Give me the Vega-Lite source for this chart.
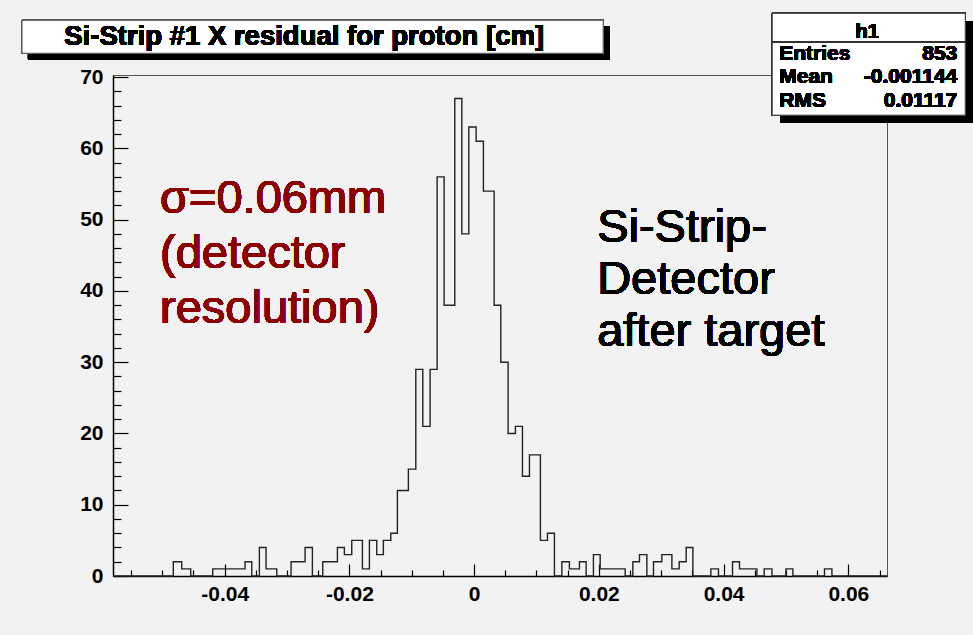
{
  "$schema": "https://vega.github.io/schema/vega-lite/v6.json",
  "width": 774,
  "height": 501,
  "autosize": {"type": "none"},
  "padding": {"left": 113, "top": 75, "right": 86, "bottom": 59},
  "background": "#f2f2f2",
  "config": {
    "view": {"stroke": "#555555", "strokeWidth": 1, "fill": "#f2f2f2"},
    "font": "Liberation Sans"
  },
  "data": {
    "values": [
      {"x": -0.0579, "count": 0},
      {"x": -0.04823, "count": 2},
      {"x": -0.04688, "count": 1},
      {"x": -0.04544, "count": 0},
      {"x": -0.04191, "count": 1},
      {"x": -0.03673, "count": 2},
      {"x": -0.03565, "count": 0},
      {"x": -0.03443, "count": 4},
      {"x": -0.03336, "count": 1},
      {"x": -0.03164, "count": 0},
      {"x": -0.02935, "count": 2},
      {"x": -0.0271, "count": 4},
      {"x": -0.02593, "count": 0},
      {"x": -0.02427, "count": 2},
      {"x": -0.02192, "count": 4},
      {"x": -0.0208, "count": 3},
      {"x": -0.01962, "count": 5},
      {"x": -0.01791, "count": 1},
      {"x": -0.01679, "count": 5},
      {"x": -0.01561, "count": 3},
      {"x": -0.01455, "count": 5},
      {"x": -0.01336, "count": 6},
      {"x": -0.0123, "count": 12},
      {"x": -0.01054, "count": 15},
      {"x": -0.00935, "count": 29},
      {"x": -0.00823, "count": 21},
      {"x": -0.00706, "count": 29},
      {"x": -0.00593, "count": 56},
      {"x": -0.00481, "count": 38},
      {"x": -0.0031, "count": 67},
      {"x": -0.00197, "count": 48},
      {"x": -0.00085, "count": 63},
      {"x": 0.00032, "count": 61},
      {"x": 0.00149, "count": 54},
      {"x": 0.00321, "count": 38},
      {"x": 0.00428, "count": 30},
      {"x": 0.00545, "count": 20},
      {"x": 0.00662, "count": 21},
      {"x": 0.00775, "count": 14},
      {"x": 0.00887, "count": 17},
      {"x": 0.01063, "count": 5},
      {"x": 0.01176, "count": 6},
      {"x": 0.01288, "count": 0},
      {"x": 0.01407, "count": 2},
      {"x": 0.01528, "count": 1},
      {"x": 0.01689, "count": 2},
      {"x": 0.01796, "count": 0},
      {"x": 0.01913, "count": 3},
      {"x": 0.02021, "count": 1},
      {"x": 0.02422, "count": 0},
      {"x": 0.02545, "count": 2},
      {"x": 0.02651, "count": 3},
      {"x": 0.0277, "count": 0},
      {"x": 0.02876, "count": 2},
      {"x": 0.0301, "count": 3},
      {"x": 0.03171, "count": 1},
      {"x": 0.03288, "count": 2},
      {"x": 0.034, "count": 4},
      {"x": 0.03508, "count": 0},
      {"x": 0.03796, "count": 1},
      {"x": 0.03918, "count": 0},
      {"x": 0.04143, "count": 2},
      {"x": 0.04255, "count": 1},
      {"x": 0.04534, "count": 0},
      {"x": 0.04651, "count": 1},
      {"x": 0.04775, "count": 0},
      {"x": 0.04999, "count": 1},
      {"x": 0.05111, "count": 0},
      {"x": 0.05618, "count": 1},
      {"x": 0.05737, "count": 0},
      {"x": 0.0662, "count": 0}
    ]
  },
  "resolve": {
    "scale": {"x": "shared", "y": "shared"},
    "axis": {"x": "independent", "y": "independent"}
  },
  "layer": [
    {
      "mark": {"type": "line", "interpolate": "step-after", "stroke": "#222222", "strokeWidth": 1.4},
      "encoding": {
        "x": {
          "field": "x", "type": "quantitative",
          "scale": {"domain": [-0.0579, 0.0662], "nice": false, "zero": false},
          "axis": {
            "orient": "bottom", "title": null, "grid": false,
            "values": [-0.04, -0.02, 0, 0.02, 0.04, 0.06],
            "labelExpr": "toString(datum.value)",
            "tickSize": -12, "tickColor": "#000000", "tickWidth": 1.2,
            "labelPadding": 19, "labelFont": "Liberation Sans", "labelFontWeight": "bold",
            "labelFontSize": 21, "labelColor": "#000000", "labelBaseline": "top",
            "domainColor": "#000000", "domainWidth": 1.5, "labelFlush": false, "labelOverlap": false
          }
        },
        "y": {
          "field": "count", "type": "quantitative",
          "scale": {"domain": [0, 70.3], "nice": false, "zero": true},
          "axis": {
            "orient": "left", "title": null, "grid": false,
            "values": [0, 10, 20, 30, 40, 50, 60, 70],
            "tickSize": -15, "tickColor": "#000000", "tickWidth": 1.2,
            "labelPadding": 25, "labelFont": "Liberation Sans", "labelFontWeight": "bold",
            "labelFontSize": 21, "labelColor": "#000000", "labelBaseline": "middle",
            "domainColor": "#000000", "domainWidth": 1.5, "labelFlush": false, "labelOverlap": false
          }
        }
      }
    },
    {
      "mark": {"type": "point", "opacity": 0},
      "encoding": {
        "x": {
          "field": "x", "type": "quantitative",
          "scale": {"domain": [-0.0579, 0.0662], "nice": false, "zero": false},
          "axis": {
            "orient": "bottom", "title": null, "grid": false, "labels": false, "domain": false,
            "values": [-0.055, -0.05, -0.045, -0.035, -0.03, -0.025, -0.015, -0.01, -0.005, 0.005, 0.01, 0.015, 0.025, 0.03, 0.035, 0.045, 0.05, 0.055, 0.065],
            "tickSize": -6, "tickColor": "#000000", "tickWidth": 1.2
          }
        },
        "y": {
          "field": "count", "type": "quantitative",
          "scale": {"domain": [0, 70.3], "nice": false, "zero": true},
          "axis": {
            "orient": "left", "title": null, "grid": false, "labels": false, "domain": false,
            "values": [2, 4, 6, 8, 12, 14, 16, 18, 22, 24, 26, 28, 32, 34, 36, 38, 42, 44, 46, 48, 52, 54, 56, 58, 62, 64, 66, 68],
            "tickSize": -8, "tickColor": "#000000", "tickWidth": 1.2
          }
        }
      }
    },
    {
      "mark": {"type": "rect", "fill": "#000000", "clip": false},
      "encoding": {
        "x": {"datum": -0.07153, "type": "quantitative", "axis": null},
        "x2": {"datum": 0.02165},
        "y": {"datum": 77.14, "type": "quantitative", "axis": null},
        "y2": {"datum": 72.51}
      }
    },
    {
      "mark": {"type": "rect", "fill": "#ffffff", "stroke": "#555555", "strokeWidth": 1, "clip": false},
      "encoding": {
        "x": {"datum": -0.07249, "type": "quantitative", "axis": null},
        "x2": {"datum": 0.02069},
        "y": {"datum": 77.98, "type": "quantitative", "axis": null},
        "y2": {"datum": 73.35}
      }
    },
    {
      "mark": {"type": "text", "text": "Si-Strip #1 X residual for proton [cm]", "font": "Liberation Sans", "fontWeight": "bold", "fontSize": 27.5, "align": "center", "baseline": "middle", "color": "#000000", "clip": false},
      "encoding": {
        "x": {"datum": -0.02725, "type": "quantitative", "axis": null},
        "y": {"datum": 75.6, "type": "quantitative", "axis": null}
      }
    },
    {
      "mark": {"type": "rect", "fill": "#000000", "clip": false},
      "encoding": {
        "x": {"datum": 0.04908, "type": "quantitative", "axis": null},
        "x2": {"datum": 0.07987},
        "y": {"datum": 77.84, "type": "quantitative", "axis": null},
        "y2": {"datum": 63.67}
      }
    },
    {
      "mark": {"type": "rect", "fill": "#ffffff", "stroke": "#333333", "strokeWidth": 1, "clip": false},
      "encoding": {
        "x": {"datum": 0.04779, "type": "quantitative", "axis": null},
        "x2": {"datum": 0.07875},
        "y": {"datum": 78.96, "type": "quantitative", "axis": null},
        "y2": {"datum": 64.66}
      }
    },
    {
      "mark": {"type": "rule", "stroke": "#333333", "strokeWidth": 1, "clip": false},
      "encoding": {
        "x": {"datum": 0.04779, "type": "quantitative", "axis": null},
        "x2": {"datum": 0.07875},
        "y": {"datum": 74.94, "type": "quantitative", "axis": null}
      }
    },
    {
      "mark": {"type": "text", "text": "h1", "font": "Liberation Sans", "fontWeight": "bold", "fontSize": 20, "align": "center", "baseline": "middle", "color": "#000000", "clip": false},
      "encoding": {
        "x": {"datum": 0.06303, "type": "quantitative", "axis": null},
        "y": {"datum": 76.34, "type": "quantitative", "axis": null}
      }
    },
    {
      "mark": {"type": "text", "text": ["Entries", "Mean", "RMS"], "lineHeight": 23.5, "font": "Liberation Sans", "fontWeight": "bold", "fontSize": 21, "align": "left", "baseline": "middle", "color": "#000000", "clip": false},
      "encoding": {
        "x": {"datum": 0.04892, "type": "quantitative", "axis": null},
        "y": {"datum": 73.31, "type": "quantitative", "axis": null}
      }
    },
    {
      "mark": {"type": "text", "text": ["853", "-0.001144", "0.01117"], "lineHeight": 23.5, "font": "Liberation Sans", "fontWeight": "bold", "fontSize": 21, "align": "right", "baseline": "middle", "color": "#000000", "clip": false},
      "encoding": {
        "x": {"datum": 0.07747, "type": "quantitative", "axis": null},
        "y": {"datum": 73.31, "type": "quantitative", "axis": null}
      }
    },
    {
      "mark": {"type": "text", "text": ["σ=0.06mm", "(detector", "resolution)"], "lineHeight": 55, "font": "Liberation Sans", "fontSize": 47, "align": "left", "baseline": "alphabetic", "color": "#8b0000", "clip": false},
      "encoding": {
        "x": {"datum": -0.05036, "type": "quantitative", "axis": null},
        "y": {"datum": 50.9, "type": "quantitative", "axis": null}
      }
    },
    {
      "mark": {"type": "text", "text": ["Si-Strip-", "Detector", "after target"], "lineHeight": 52, "font": "Liberation Sans", "fontSize": 47, "align": "left", "baseline": "alphabetic", "color": "#000000", "clip": false},
      "encoding": {
        "x": {"datum": 0.01973, "type": "quantitative", "axis": null},
        "y": {"datum": 46.8, "type": "quantitative", "axis": null}
      }
    }
  ]
}
